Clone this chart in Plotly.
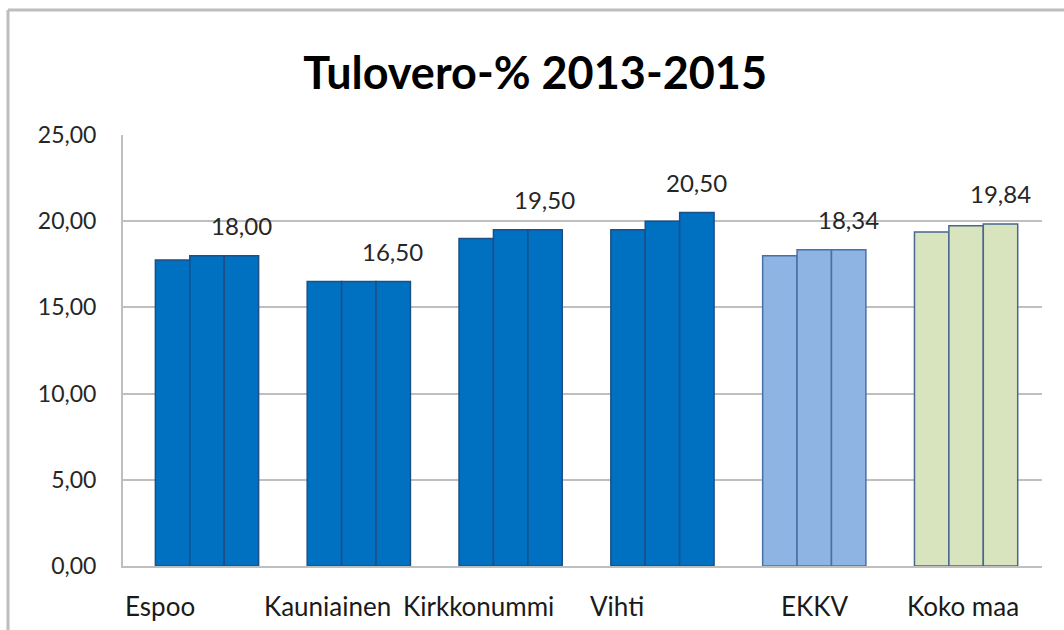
import plotly.graph_objects as go

# Municipal income tax rates (%) by year
categories = ["Espoo", "Kauniainen", "Kirkkonummi", "Vihti", "EKKV", "Koko maa"]
years = ["2013", "2014", "2015"]
rate_2013 = [17.75, 16.50, 19.00, 19.50, 17.99, 19.38]
rate_2014 = [18.00, 16.50, 19.50, 20.00, 18.34, 19.74]
rate_2015 = [18.00, 16.50, 19.50, 20.50, 18.34, 19.84]
series = [rate_2013, rate_2014, rate_2015]

y_ticks = [0, 5, 10, 15, 20, 25]

# Group colours: municipalities dark blue, region light blue, whole country light green
fills = ["#0070C0"] * 4 + ["#8DB4E2", "#D7E4BD"]
edges = ["#1C4F86"] * 4 + ["#4A6FA5", "#4A6690"]

FONT = "Lato"

fig = go.Figure()
for name, vals in zip(years, series):
    fig.add_trace(go.Bar(
        name=name,
        x=categories,
        y=vals,
        marker=dict(color=fills, line=dict(color=edges, width=1.5)),
        showlegend=False,
    ))

# Value labels above the latest-year bar of each group
for cat, v in zip(categories, rate_2015):
    fig.add_annotation(
        x=cat, y=v, xref="x", yref="y",
        text=f"{v:.2f}".replace(".", ","),
        showarrow=False, xshift=34, yshift=30,
        font=dict(family=FONT, size=24, color="#262626"),
    )

# Category labels under the axis
label_shift = [-47, -31, -32, -45, 0, -3]
for cat, dx in zip(categories, label_shift):
    fig.add_annotation(
        x=cat, y=0, xref="x", yref="y",
        text=cat, showarrow=False, xshift=dx, yshift=-40,
        font=dict(family=FONT, size=26, color="#1a1a1a"),
    )

# Outer chart frame (top and left edges)
fig.add_shape(type="line", xref="paper", yref="paper",
              x0=(8 - 123) / 919, x1=1.5, y0=(566 - 10) / 431, y1=(566 - 10) / 431,
              line=dict(color="#BDBDBD", width=3))
fig.add_shape(type="line", xref="paper", yref="paper",
              x0=(8 - 123) / 919, x1=(8 - 123) / 919, y0=(566 - 10) / 431, y1=-0.5,
              line=dict(color="#BDBDBD", width=3))

fig.update_layout(
    width=1064, height=630,
    margin=dict(l=123, r=22, t=135, b=64),
    paper_bgcolor="white", plot_bgcolor="white",
    barmode="group", bargap=0.32, bargroupgap=0,
    separators=", ",
    title=dict(
        text="<b>Tulovero-% 2013-2015</b>",
        x=0.503, xanchor="center", y=1 - 73 / 630, yanchor="middle",
        font=dict(family=FONT, size=45, color="black"),
    ),
    font=dict(family=FONT),
)

fig.update_xaxes(
    showticklabels=False, showgrid=False,
    showline=True, linecolor="#BFBFBF", linewidth=2,
    ticks="", automargin=False,
)
fig.update_yaxes(
    range=[0, 25], tickvals=y_ticks, tickformat=".2f",
    showgrid=True, gridcolor="#BFBFBF", gridwidth=1.5,
    showline=True, linecolor="#BFBFBF", linewidth=2,
    zeroline=False, ticks="", ticklabelstandoff=20, automargin=False,
    tickfont=dict(family=FONT, size=23, color="#262626"),
)

fig.write_html("out.html")
